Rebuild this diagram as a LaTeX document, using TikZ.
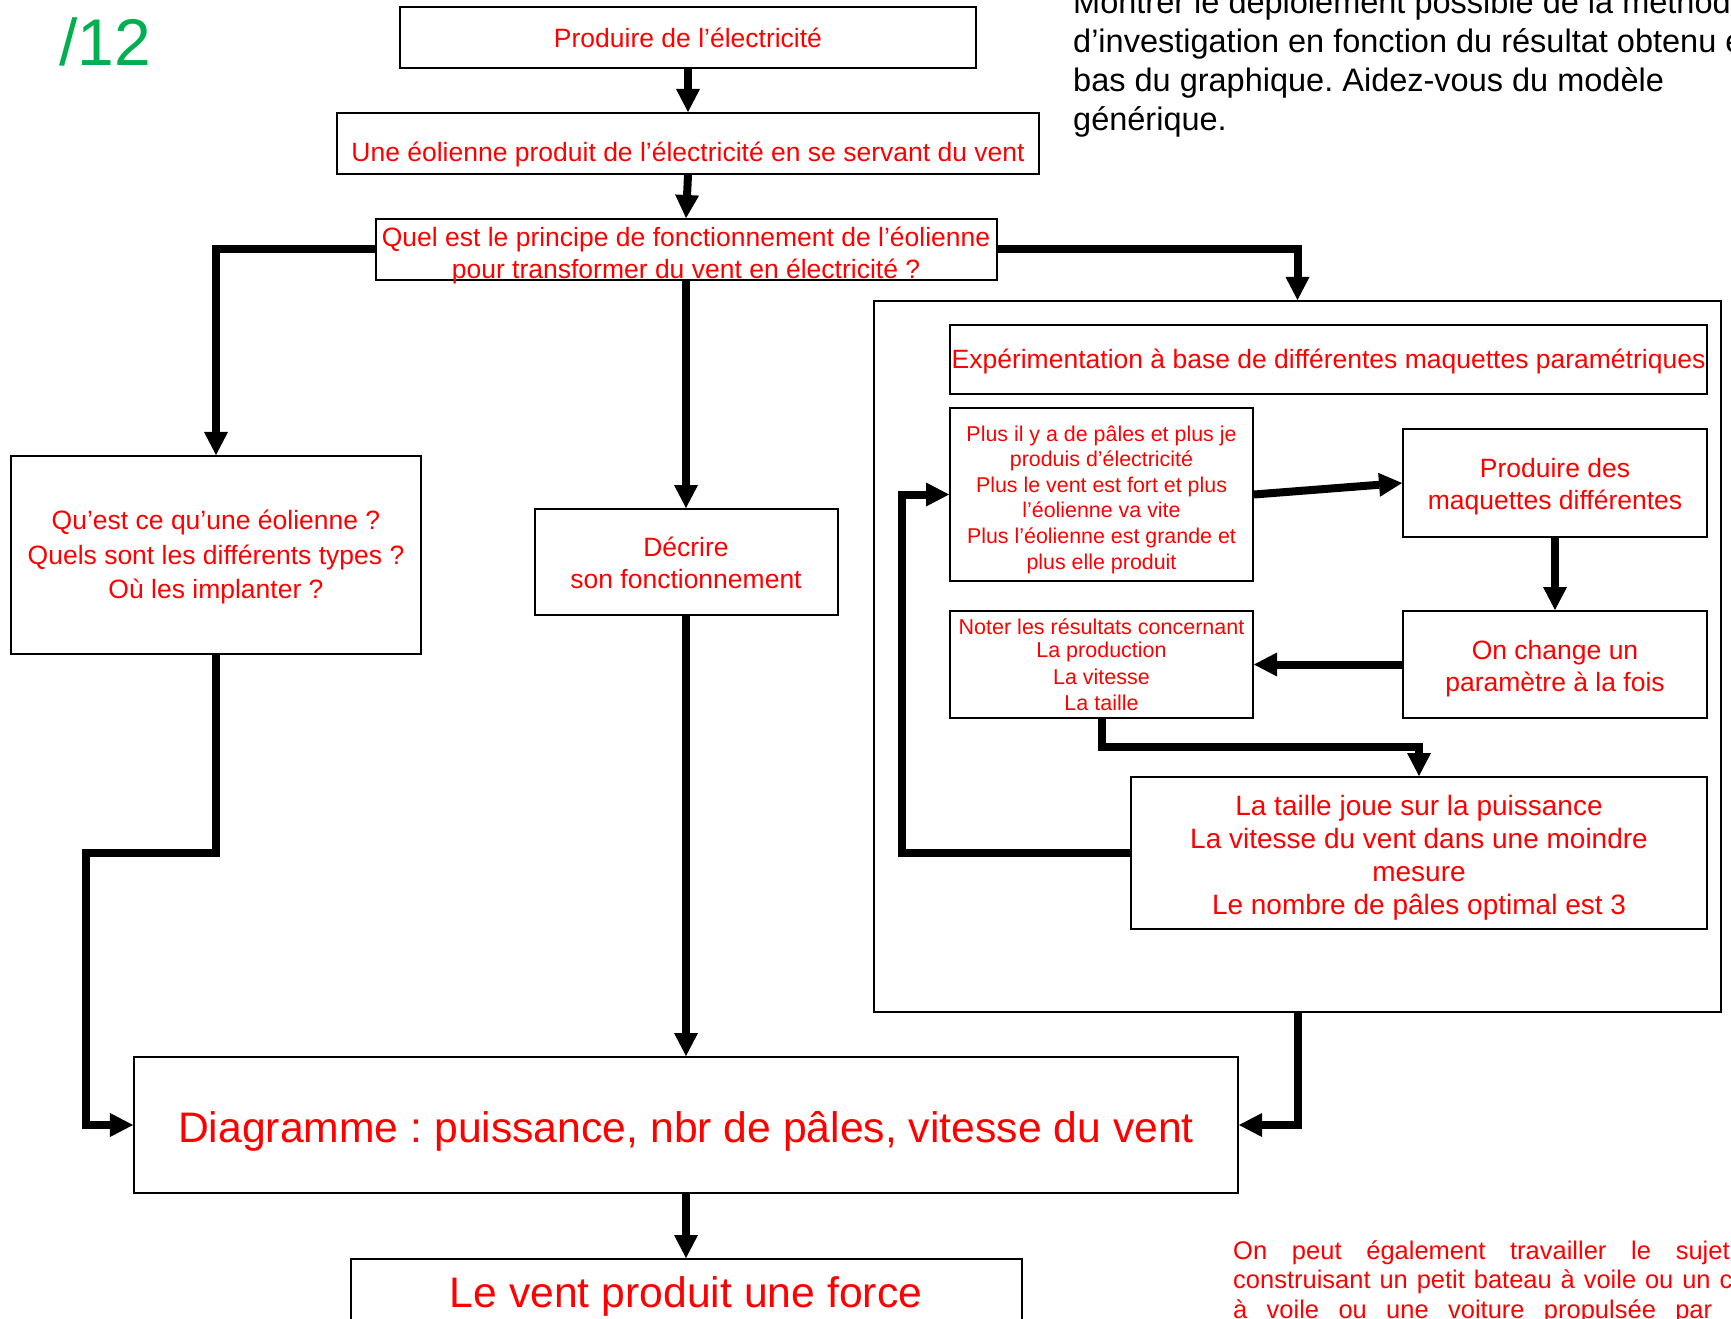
\documentclass[tikz,border=0pt]{standalone}
\usepackage{fontspec}
\setmainfont{Liberation Sans}
\usetikzlibrary{arrows.meta}
\definecolor{vert}{HTML}{00B050}
\newcommand\mystrut{\rule[-1.1em]{0pt}{2.2em}}
\frenchspacing
\begin{document}
\lineskiplimit=-16000pt
\begin{tikzpicture}[x=1bp, y=-1bp,
  box/.style={draw=black, line width=2bp, fill=white, inner sep=0pt, rectangle},
  conn/.style={line width=8bp, line join=miter, -{Triangle[length=23bp, width=24bp, line width=0pt]}},
  rt/.style={text=red, inner sep=0pt, align=center},
  bt/.style={text=black, inner sep=0pt, align=left},
  fs/.style 2 args={font=\fontsize{#1bp}{#2bp}\selectfont}]
\useasboundingbox (0,0) rectangle (1731,1319);
\clip (0,0) rectangle (1731,1319);

% title mark
\node[text=vert, inner sep=0pt, fs={66}{70}, anchor=base west] (note) at (59,66) {/12};

% top-right instructions
\node[bt, fs={32.5}{39}, anchor=west] (consigne) at (1073,72.5)
  {\mystrut Montrer le déploiement possible de la méthode\\
   \mystrut d’investigation en fonction du résultat obtenu en\\
   \mystrut bas du graphique. Aidez-vous du modèle\\
   \mystrut générique.};

% main column
\node[box, minimum width=576bp, minimum height=61bp] (b1) at (688,37.5) {};
\node[rt, fs={26.5}{32}, anchor=base] (b1t) at (688,48) {Produire de l’électricité};

\node[box, minimum width=702bp, minimum height=61bp] (b2) at (688,143.5) {};
\node[rt, fs={26.5}{32}, anchor=base] (b2t) at (688,162) {Une éolienne produit de l’électricité en se servant du vent};

\node[box, minimum width=621bp, minimum height=61bp] (b3) at (686,249.5) {};
\node[rt, fs={26.5}{32}] (b3t) at (686,262.2)
  {\mystrut Quel est le principe de fonctionnement de l’éolienne\\
   \mystrut pour transformer du vent en électricité ?};

\node[box, minimum width=410bp, minimum height=198bp] (lb) at (216,555) {};
\node[rt, fs={26.5}{34.5}] (lbt) at (216,564)
  {\mystrut Qu’est ce qu’une éolienne ?\\
   \mystrut Quels sont les différents types ?\\
   \mystrut Où les implanter ?};

\node[box, minimum width=303bp, minimum height=106bp] (dc) at (686,562) {};
\node[rt, fs={26.5}{31.5}] (dct) at (686,572.25)
  {\mystrut Décrire\\
   \mystrut son fonctionnement};

% right container
\node[box, minimum width=847bp, minimum height=711bp] (ct) at (1297.5,656.5) {};

\node[box, minimum width=757bp, minimum height=69bp] (ex) at (1328.5,359.5) {};
\node[rt, fs={26.5}{32}, anchor=base] (ext) at (1328.5,369) {Expérimentation à base de différentes maquettes paramétriques};

\node[box, minimum width=303bp, minimum height=173bp] (pl) at (1101.5,494.5) {};
\node[rt, fs={21.4}{25.6}] (plt) at (1101.5,505)
  {\mystrut Plus il y a de pâles et plus je\\
   \mystrut produis d’électricité\\
   \mystrut Plus le vent est fort et plus\\
   \mystrut l’éolienne va vite\\
   \mystrut Plus l’éolienne est grande et\\
   \mystrut plus elle produit};

\node[box, minimum width=304bp, minimum height=108bp] (pd) at (1555,483) {};
\node[rt, fs={26.5}{32}] (pdt) at (1555,493.5)
  {\mystrut Produire des\\
   \mystrut maquettes différentes};

\node[box, minimum width=304bp, minimum height=107bp] (oc) at (1555,664.5) {};
\node[rt, fs={26.5}{32}] (oct) at (1555,675)
  {\mystrut On change un\\
   \mystrut paramètre à la fois};

\node[box, minimum width=303bp, minimum height=107bp] (nt) at (1101.5,664.5) {};
\node[rt, fs={21.5}{26.7}] (ntt) at (1101.5,672.5)
  {\mystrut Noter les résultats concernant\\[-3.2bp]
   \mystrut La production\\
   \mystrut La vitesse\\
   \mystrut La taille};

\node[box, minimum width=576bp, minimum height=152bp] (lt) at (1419,853) {};
\node[rt, fs={28}{33}] (ltt) at (1419,864.5)
  {\mystrut La taille joue sur la puissance\\
   \mystrut La vitesse du vent dans une moindre\\
   \mystrut mesure\\
   \mystrut Le nombre de pâles optimal est 3};

% bottom
\node[box, minimum width=1104bp, minimum height=136bp] (dg) at (686,1125) {};
\node[rt, fs={42.7}{48}, anchor=base] (dgt) at (686,1142) {Diagramme : puissance, nbr de pâles, vitesse du vent};

\node[box, minimum width=671bp, minimum height=121bp] (lv) at (686,1319.5) {};
\node[rt, fs={42.7}{48}, anchor=base] (lvt) at (686,1307) {Le vent produit une force};

% bottom-right remark
\node[rt, align=left, fs={25.5}{29.6}, anchor=west] (rem) at (1233,1288.7)
  {\mystrut\makebox[496.5bp][s]{On peut également travailler le sujet}\\
   \mystrut\makebox[536bp][s]{construisant un petit bateau à voile ou un char}\\
   \mystrut\makebox[479bp][s]{à voile ou une voiture propulsée par}};

% helper corners
\coordinate (k1) at (86,853);
\coordinate (k2) at (1260,747);
\coordinate (k3) at (902,700);

% connectors
\draw[conn] (b1.south) -- (b2.north);
\draw[conn] (b2.south) -- (b3.north);
\draw[conn] (b3.west) -| (lb.north);
\draw[conn] (b3.south) -- (dc.north);
\draw[conn] (b3.east) -| (ct.north);
\draw[conn] (dc.south) -- (dg.north);
\draw[conn] (lb.south) |- (k1) |- (dg.west);
\draw[conn] (ct.south) |- (dg.east);
\draw[conn] (dg.south) -- (lv.north);
\draw[conn] (pl.east) -- (pd.west);
\draw[conn] (pd.south) -- (oc.north);
\draw[conn] (oc.west) -- (nt.east);
\draw[conn] (nt.south) |- (k2) -| (lt.north);
\draw[conn] (lt.west) -| (k3) |- (pl.west);
\end{tikzpicture}
\end{document}
